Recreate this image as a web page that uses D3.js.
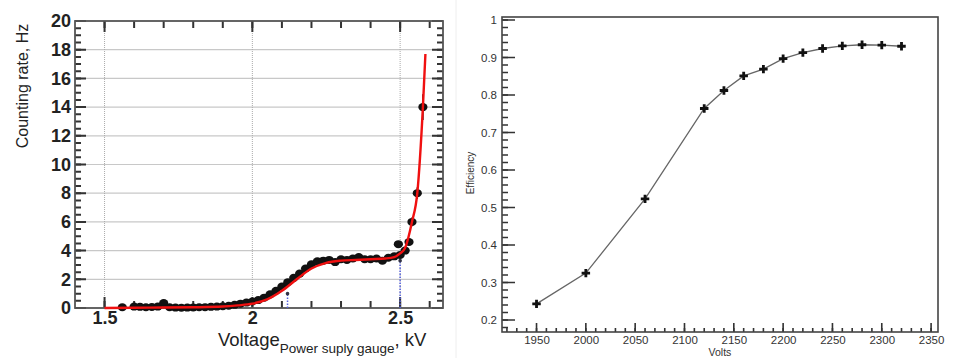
<!DOCTYPE html>
<html>
<head>
<meta charset="utf-8">
<script src="https://cdn.jsdelivr.net/npm/d3@7"></script>
<style>
  body { margin: 0; background: #fff; }
  svg { display: block; font-family: "Liberation Sans", Arial, sans-serif; }
  .domain { display: none; }
</style>
</head>
<body>
<svg id="chart" width="974" height="358"></svg>
<script>
// left panel: counting rate vs voltage
const rateVolts = [1.56, 1.60, 1.62, 1.64, 1.66, 1.68, 1.70, 1.72, 1.74, 1.76, 1.78, 1.80, 1.82, 1.84, 1.86, 1.88,
  1.90, 1.92, 1.94, 1.96, 1.98, 2.00, 2.02, 2.04, 2.06, 2.08, 2.10, 2.12, 2.14, 2.16, 2.18, 2.20, 2.22, 2.24,
  2.26, 2.28, 2.30, 2.32, 2.34, 2.36, 2.38, 2.40, 2.42, 2.44, 2.46, 2.48, 2.494, 2.50, 2.517, 2.53, 2.54, 2.558, 2.577];
const rateHz = [0.05, 0.1, 0.08, 0.05, 0.07, 0.1, 0.35, 0.05, 0.03, 0.02, 0.03, 0.04, 0.05, 0.06, 0.08, 0.1,
  0.12, 0.16, 0.22, 0.3, 0.38, 0.45, 0.55, 0.72, 0.95, 1.2, 1.5, 1.8, 2.1, 2.4, 2.75, 3.05, 3.25, 3.3,
  3.35, 3.2, 3.4, 3.35, 3.45, 3.55, 3.4, 3.4, 3.45, 3.3, 3.5, 3.6, 4.45, 3.7, 4.0, 4.6, 6.0, 8.0, 14.0];
const rateErr = [0, 0, 0, 0, 0, 0, 0, 0, 0, 0, 0, 0, 0, 0, 0, 0,
  0, 0, 0, 0, 0, 0, 0, 0, 0, 0, 0, 0, 0, 0, 0, 0, 0, 0,
  0, 0, 0, 0, 0, 0, 0, 0, 0, 0, 0, 0, 0.2, 0.2, 0.2, 0.2, 0.3, 0.4, 0.9];
// red fit curve
const fitVolts = [1.50, 1.60, 1.70, 1.80, 1.90, 1.95, 2.00, 2.05, 2.10, 2.15, 2.20, 2.25, 2.30, 2.35, 2.40, 2.45, 2.48, 2.50, 2.517, 2.54, 2.558, 2.577, 2.5855];
const fitHz = [0, 0.02, 0.03, 0.05, 0.1, 0.18, 0.3, 0.6, 1.2, 2.0, 2.75, 3.15, 3.3, 3.35, 3.4, 3.45, 3.55, 3.8, 4.2, 6.0, 8.0, 14.0, 17.7];
// blue dotted markers
const markVolts = [2.119, 2.5];
const markHz = [1.0, 3.3];
const leftXTicks = [1.5, 2, 2.5];
const leftYTicks = [0, 2, 4, 6, 8, 10, 12, 14, 16, 18, 20];

// right panel: efficiency vs volts
const effVolts = [1950, 2000, 2060, 2120, 2140, 2160, 2180, 2200, 2220, 2240, 2260, 2280, 2300, 2320];
const effValue = [0.243, 0.325, 0.523, 0.764, 0.812, 0.851, 0.869, 0.897, 0.913, 0.924, 0.931, 0.934, 0.933, 0.930];
const rightXTicks = [1950, 2000, 2050, 2100, 2150, 2200, 2250, 2300, 2350];
const rightYTicks = [0.2, 0.3, 0.4, 0.5, 0.6, 0.7, 0.8, 0.9, 1];

const svg = d3.select('#chart');

// faint separator between panels
svg.append('line').attr('x1', 456).attr('x2', 456).attr('y1', 0).attr('y2', 358)
  .attr('stroke', '#eee').attr('stroke-width', 1);

// inward tick marks, one path per set
function tickPath(g, scale, vals, pos, len, horizontal, color, w) {
  const d = vals.map(v => {
    const p = scale(v);
    return horizontal ? `M${p},${pos}V${pos + len}` : `M${pos},${p}H${pos + len}`;
  }).join('');
  g.append('path').attr('d', d).attr('fill', 'none')
    .attr('stroke', color).attr('stroke-width', w);
}

// ---------- left panel ----------
const L = { left: 75, right: 443, top: 21, bottom: 308 };
const xL = d3.scaleLinear([1.4, 2.645], [L.left, L.right]);
const yL = d3.scaleLinear([0, 20], [L.bottom, L.top]);
const gl = svg.append('g');

// grid
gl.append('g').selectAll('line').data(leftYTicks.slice(1, -1)).join('line')
  .attr('x1', L.left).attr('x2', L.right).attr('y1', d => yL(d)).attr('y2', d => yL(d))
  .attr('stroke', '#c8c8c8').attr('stroke-width', 1.2);
gl.append('g').selectAll('line').data(leftXTicks).join('line')
  .attr('x1', d => xL(d)).attr('x2', d => xL(d)).attr('y1', L.top).attr('y2', L.bottom)
  .attr('stroke', '#aaa').attr('stroke-width', 1).attr('stroke-dasharray', '1,1');

const xMinorL = d3.range(15, 27).map(d => d / 10);
const yMinorL = d3.range(0, 41).map(d => d / 2);
tickPath(gl, xL, xMinorL, L.bottom, -7, true, '#333', 2);
tickPath(gl, xL, xMinorL, L.top, 7, true, '#333', 2);
tickPath(gl, xL, leftXTicks, L.bottom, -11, true, '#333', 2);
tickPath(gl, xL, leftXTicks, L.top, 11, true, '#333', 2);
tickPath(gl, yL, yMinorL, L.left, 6, false, '#333', 2);
tickPath(gl, yL, yMinorL, L.right, -6, false, '#333', 2);
tickPath(gl, yL, leftYTicks, L.left, 11, false, '#333', 2);
tickPath(gl, yL, leftYTicks, L.right, -11, false, '#333', 2);

gl.append('rect').attr('x', L.left).attr('y', L.top)
  .attr('width', L.right - L.left).attr('height', L.bottom - L.top)
  .attr('fill', 'none').attr('stroke', '#555').attr('stroke-width', 1.8);

// labels
gl.append('g').attr('transform', `translate(${L.left},0)`)
  .call(d3.axisLeft(yL).tickValues(leftYTicks).tickSize(0).tickPadding(4))
  .call(g => g.selectAll('text').attr('font-size', 18).attr('font-weight', 'bold').attr('fill', '#222')
    .attr('font-family', '"Liberation Sans", Arial, sans-serif'));
gl.append('g').attr('transform', `translate(0,${L.bottom})`)
  .call(d3.axisBottom(xL).tickValues(leftXTicks).tickSize(0).tickPadding(3).tickFormat(d3.format('')))
  .call(g => g.selectAll('text').attr('font-size', 18).attr('font-weight', 'bold').attr('fill', '#222')
    .attr('font-family', '"Liberation Sans", Arial, sans-serif'));

gl.append('text').attr('transform', 'translate(28,86) rotate(-90)')
  .attr('text-anchor', 'middle').attr('font-size', 16).attr('fill', '#222')
  .text('Counting rate, Hz');
const xt = gl.append('text').attr('x', 218).attr('y', 346).attr('font-size', 18.5).attr('fill', '#222');
xt.append('tspan').text('Voltage');
xt.append('tspan').attr('font-size', 13.5).attr('dy', 7).text('Power suply gauge');
xt.append('tspan').attr('dy', -7).text(', kV');

// blue dotted markers
gl.append('g').selectAll('line').data(markVolts).join('line')
  .attr('x1', d => xL(d)).attr('x2', d => xL(d))
  .attr('y1', L.bottom).attr('y2', (d, i) => yL(markHz[i]))
  .attr('stroke', '#5560dd').attr('stroke-width', 1.5).attr('stroke-dasharray', '1.5,1.5');
gl.append('g').selectAll('circle').data(markVolts).join('circle')
  .attr('cx', d => xL(d)).attr('cy', (d, i) => yL(markHz[i])).attr('r', 1.8).attr('fill', '#334');

// data points
const rateData = rateVolts.map((v, i) => ({ v, r: rateHz[i], e: rateErr[i] }));
gl.append('g').selectAll('line').data(rateData.filter(d => d.e > 0)).join('line')
  .attr('x1', d => xL(d.v)).attr('x2', d => xL(d.v))
  .attr('y1', d => yL(d.r - d.e)).attr('y2', d => yL(d.r + d.e))
  .attr('stroke', '#111').attr('stroke-width', 1.5);
gl.append('g').selectAll('ellipse').data(rateData).join('ellipse')
  .attr('cx', d => xL(d.v)).attr('cy', d => yL(d.r)).attr('rx', 4.6).attr('ry', 4)
  .attr('fill', '#111');

// fit curve
const fitLine = d3.line().x(d => xL(d[0])).y(d => yL(d[1])).curve(d3.curveMonotoneX);
gl.append('path').datum(fitVolts.map((v, i) => [v, fitHz[i]]))
  .attr('d', fitLine).attr('fill', 'none').attr('stroke', '#f01010').attr('stroke-width', 2.4);

// ---------- right panel ----------
const R = { left: 502, right: 938, top: 17, bottom: 332 };
const xR = d3.scaleLinear([1915, 2357], [R.left, R.right]);
const yR = d3.scaleLinear([0.168, 1.008], [R.bottom, R.top]);
const gr = svg.append('g');

const xMinorR = d3.range(1920, 2351, 10);
const yMinorR = d3.range(9, 51).map(d => d / 50);
tickPath(gr, xR, xMinorR, R.bottom, -4, true, '#333', 1.6);
tickPath(gr, xR, rightXTicks, R.bottom, -9, true, '#333', 1.6);
tickPath(gr, yR, yMinorR, R.left, 6, false, '#333', 1.6);
tickPath(gr, yR, rightYTicks, R.left, 13, false, '#333', 1.6);

gr.append('rect').attr('x', R.left).attr('y', R.top)
  .attr('width', R.right - R.left).attr('height', R.bottom - R.top)
  .attr('fill', 'none').attr('stroke', '#444').attr('stroke-width', 1.6);

gr.append('g').attr('transform', `translate(${R.left},0)`)
  .call(d3.axisLeft(yR).tickValues(rightYTicks).tickSize(0).tickPadding(5).tickFormat(d3.format('')))
  .call(g => g.selectAll('text').attr('font-size', 11.5).attr('fill', '#333')
    .attr('font-family', '"Liberation Sans", Arial, sans-serif'));
gr.append('g').attr('transform', `translate(0,${R.bottom})`)
  .call(d3.axisBottom(xR).tickValues(rightXTicks).tickSize(0).tickPadding(4).tickFormat(d3.format('d')))
  .call(g => g.selectAll('text').attr('font-size', 11.5).attr('fill', '#333')
    .attr('font-family', '"Liberation Sans", Arial, sans-serif'));

gr.append('text').attr('transform', 'translate(474,173) rotate(-90)')
  .attr('text-anchor', 'middle').attr('font-size', 10).attr('fill', '#333').text('Efficiency');
gr.append('text').attr('x', 720).attr('y', 356).attr('text-anchor', 'middle')
  .attr('font-size', 10.5).attr('fill', '#333').text('Volts');

const effData = effVolts.map((v, i) => [v, effValue[i]]);
gr.append('path').datum(effData)
  .attr('d', d3.line().x(d => xR(d[0])).y(d => yR(d[1])))
  .attr('fill', 'none').attr('stroke', '#666').attr('stroke-width', 1.3);
gr.append('g').selectAll('path').data(effData).join('path')
  .attr('transform', d => `translate(${xR(d[0])},${yR(d[1])})`)
  .attr('d', d3.symbol(d3.symbolCross, 40))
  .attr('fill', '#111');
</script>
</body>
</html>
